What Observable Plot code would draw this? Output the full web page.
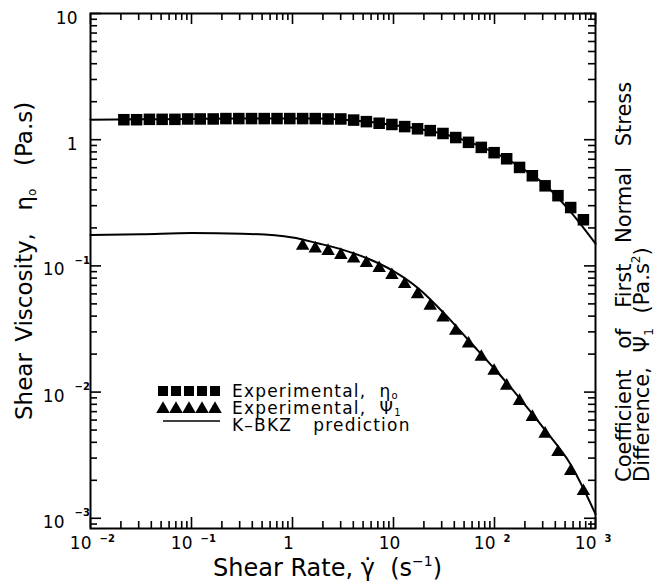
<!DOCTYPE html>
<html><head><meta charset="utf-8">
<script src="https://cdn.jsdelivr.net/npm/d3@7"></script>
<script src="https://cdn.jsdelivr.net/npm/@observablehq/plot@0.6"></script>
<style>
body{margin:0;background:#fff;}
#chart{position:relative;width:660px;height:588px;}
svg{font-family:"DejaVu Sans",sans-serif;}
</style></head><body><div id="chart"></div>
<script>
// Experimental shear rates (s^-1)
const shearRate = [0.0214,0.0286,0.0383,0.0512,0.0685,0.0916,0.122,0.164,0.219,0.294,0.393,0.525,0.703,0.940,1.26,1.68,2.25,3.01,4.03,5.39,7.21,9.64,12.9,17.3,23.1,30.9,41.3,55.3,74.0,99.1,132,177,237,317,425,568,759];
// Experimental shear viscosity eta_0 (Pa.s)
const etaExp = [1.44,1.44,1.45,1.45,1.45,1.46,1.46,1.46,1.47,1.47,1.47,1.47,1.47,1.47,1.47,1.47,1.46,1.46,1.43,1.39,1.35,1.32,1.27,1.22,1.18,1.12,1.04,0.953,0.869,0.789,0.706,0.603,0.518,0.431,0.36,0.29,0.232];
// Experimental first normal stress coefficient Psi_1 (Pa.s^2)
const psiRate = [1.26,1.68,2.25,3.01,4.03,5.39,7.21,9.64,12.9,17.3,23.1,30.9,41.3,55.3,74.0,99.1,132,177,237,317,425,568,759];
const psiExp = [0.144,0.137,0.131,0.122,0.114,0.105,0.0959,0.0844,0.0716,0.0596,0.0482,0.0389,0.0305,0.0242,0.019,0.0147,0.0112,0.0085,0.00634,0.00467,0.00334,0.00236,0.00164];
// K-BKZ prediction
const modelRate = [0.01,0.0316,0.1,0.316,1,1.78,3.16,5.62,10,17.8,31.6,56.2,100,178,316,562,1000];
const etaModel = [1.44,1.45,1.46,1.47,1.47,1.47,1.44,1.39,1.31,1.22,1.11,0.96,0.79,0.61,0.44,0.27,0.15];
const psiModel = [0.176,0.178,0.182,0.180,0.168,0.151,0.134,0.114,0.091,0.066,0.0422,0.0254,0.0153,0.00893,0.00501,0.0027,0.00108];

// Axes
const xDomain = [0.01, 1000];
const yDomain = [8.3e-4, 10];
const xMajor = [0.01,0.1,1,10,100,1000];
const xTickBase = ["10","10","1","10","10","10"];
const xTickExp = ["\u22122","\u22121","","","2","3"];
const yMajor = [0.001,0.01,0.1,1,10];
const yTickBase = ["10","10","10","1","10"];
const yTickExp = ["\u22123","\u22122","\u22121","",""];
const minorDigits = [2,3,4,5,6,7,8,9];

const xMinor = xMajor.slice(0,-1).flatMap(m => minorDigits.map(d => m*d));
const yMinor = [0.0001, ...yMajor.slice(0,-1)].flatMap(m => minorDigits.map(d => m*d)).filter(v => v > yDomain[0] && v < yDomain[1]);

const W = 660, H = 588, mL = 90, mR = 65, mT = 13, mB = 60;
const ih = H - mT - mB, iw = W - mL - mR;
const MAJ = 11, MIN = 7, tw = 1.6;

const etaData = shearRate.map((x,i) => ({x, y: etaExp[i]}));
const psiData = psiRate.map((x,i) => ({x, y: psiExp[i]}));
const etaLine = modelRate.map((x,i) => ({x, y: etaModel[i]}));
const psiLine = modelRate.map((x,i) => ({x, y: psiModel[i]}));
const xT = xMajor.map((v,i) => ({v, b: xTickBase[i], e: xTickExp[i]}));
const yT = yMajor.map((v,i) => ({v, b: yTickBase[i], e: yTickExp[i]}));

const font = {fontFamily: "DejaVu Sans", fill: "black"};

const plot = Plot.plot({
  width: W, height: H,
  marginLeft: mL, marginRight: mR, marginTop: mT, marginBottom: mB,
  style: {background: "white", fontFamily: "DejaVu Sans"},
  x: {type: "log", domain: xDomain, axis: null},
  y: {type: "log", domain: yDomain, axis: null},
  marks: [
    Plot.ruleX(xMajor, {x: d => d, insetTop: ih - MAJ, strokeWidth: tw}),
    Plot.ruleX(xMajor, {x: d => d, insetBottom: ih - MAJ, strokeWidth: tw}),
    Plot.ruleX(xMinor, {x: d => d, insetTop: ih - MIN, strokeWidth: tw}),
    Plot.ruleX(xMinor, {x: d => d, insetBottom: ih - MIN, strokeWidth: tw}),
    Plot.ruleY(yMajor, {y: d => d, insetRight: iw - MAJ, strokeWidth: tw}),
    Plot.ruleY(yMajor, {y: d => d, insetLeft: iw - MAJ, strokeWidth: tw}),
    Plot.ruleY(yMinor, {y: d => d, insetRight: iw - MIN, strokeWidth: tw}),
    Plot.ruleY(yMinor, {y: d => d, insetLeft: iw - MIN, strokeWidth: tw}),
    Plot.frame({stroke: "black", strokeWidth: 2}),
    Plot.text(xT.filter(d => d.e), {x: "v", frameAnchor: "bottom", text: "b", textAnchor: "end", dx: 1, dy: 20, fontSize: 17, ...font}),
    Plot.text(xT.filter(d => d.e), {x: "v", frameAnchor: "bottom", text: "e", textAnchor: "start", dx: 9, dy: 13, fontSize: 10, fontWeight: "bold", ...font}),
    Plot.text(xT.filter(d => !d.e), {x: "v", frameAnchor: "bottom", text: "b", textAnchor: "middle", dx: -4, dy: 20, fontSize: 17, ...font}),
    Plot.text(yT.filter(d => d.e), {y: "v", frameAnchor: "left", text: "b", textAnchor: "end", dx: -26, dy: 4, fontSize: 17, ...font}),
    Plot.text(yT.filter(d => d.e), {y: "v", frameAnchor: "left", text: "e", textAnchor: "start", dx: -16, dy: -5, fontSize: 10, fontWeight: "bold", ...font}),
    Plot.text(yT.filter(d => !d.e), {y: "v", frameAnchor: "left", text: "b", textAnchor: "end", dx: -13, dy: 5, fontSize: 17, ...font}),
    Plot.line(etaLine, {x: "x", y: "y", stroke: "black", strokeWidth: 2, curve: "monotone-x"}),
    Plot.line(psiLine, {x: "x", y: "y", stroke: "black", strokeWidth: 2, curve: "monotone-x"}),
    Plot.dot(etaData, {x: "x", y: "y", symbol: "square", r: 6.5, fill: "black", stroke: "none"}),
    Plot.dot(psiData, {x: "x", y: "y", symbol: "triangle", r: 5, fill: "black", stroke: "none"})
  ]
});
document.getElementById("chart").appendChild(plot);

const svg = d3.select(plot);
const g = svg.append("g").attr("text-anchor", "start").attr("fill", "black").attr("font-family", "DejaVu Sans");
// X title
const xt = g.append("text").attr("x", 213).attr("y", 576).attr("font-size", 24);
xt.append("tspan").text("Shear Rate, \u03B3\u0307  (s");
xt.append("tspan").attr("font-size", 14).attr("dy", -10).text("\u22121");
xt.append("tspan").attr("dy", 10).text(")");
// Y title
const yt = g.append("text").attr("transform", "translate(32,420) rotate(-90)").attr("font-size", 23).attr("word-spacing", 4);
yt.append("tspan").text("Shear Viscosity,  \u03B7");
yt.append("tspan").attr("font-size", 12).attr("dy", 4).text("o");
yt.append("tspan").attr("dy", -4).text("  (Pa.s)");
// Right title
const r1 = g.append("text").attr("transform", "translate(631,482) rotate(-90)").attr("font-size", 21).attr("word-spacing", 14);
r1.text("Coefficient of First Normal Stress");
const r2 = g.append("text").attr("transform", "translate(649,482) rotate(-90)").attr("font-size", 21).attr("word-spacing", 8);
r2.append("tspan").text("Difference, \u03A8");
r2.append("tspan").attr("font-size", 12).attr("dy", 4).text("1");
r2.append("tspan").attr("dy", -4).text(" (Pa.s");
r2.append("tspan").attr("font-size", 12).attr("dy", -9).text("2");
r2.append("tspan").attr("dy", 9).text(")");

// Legend
const lg = g.append("g");
const sq = d3.symbol(d3.symbolSquare, 100), tri = d3.symbol(d3.symbolTriangle, 80);
[0,1,2,3,4].forEach(i => {
  lg.append("path").attr("d", sq()).attr("transform", `translate(${163 + 13*i},391)`).attr("fill", "black");
  lg.append("path").attr("d", tri()).attr("transform", `translate(${163 + 13*i},409)`).attr("fill", "black");
});
lg.append("line").attr("x1", 163).attr("x2", 220).attr("y1", 421).attr("y2", 421).attr("stroke", "black").attr("stroke-width", 1.6);
const t1 = lg.append("text").attr("x", 232).attr("y", 397).attr("font-size", 17).attr("letter-spacing", 1.2);
t1.append("tspan").text("Experimental,  \u03B7");
t1.append("tspan").attr("font-size", 10).attr("dy", 2).text("o");
const t2 = lg.append("text").attr("x", 232).attr("y", 414).attr("font-size", 17).attr("letter-spacing", 1.2);
t2.append("tspan").text("Experimental,  \u03A8");
t2.append("tspan").attr("font-size", 10).attr("dy", 2).text("1");
lg.append("text").attr("x", 232).attr("y", 431).attr("font-size", 17).attr("letter-spacing", 1.2).attr("word-spacing", 4).text("K\u2013BKZ  prediction");
</script></body></html>
